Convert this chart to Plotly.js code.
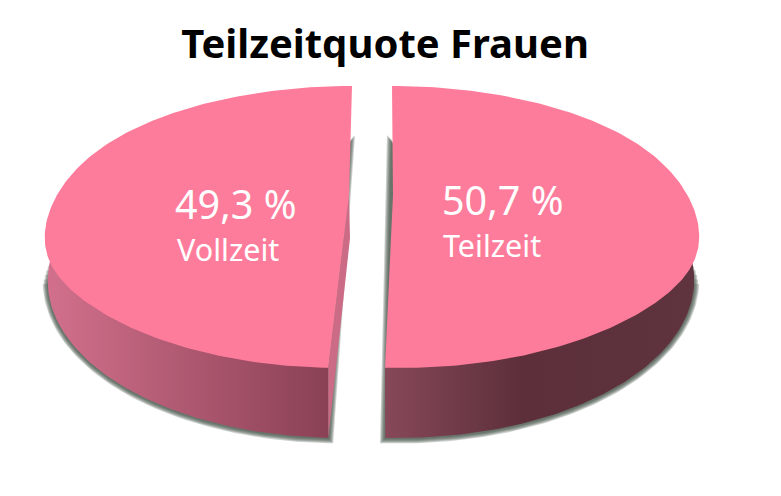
<!DOCTYPE html>
<html><head><meta charset="utf-8">
<script src="https://cdn.plot.ly/plotly-3.0.1.min.js"></script>
<style>html,body{margin:0;padding:0;background:#fff}#c{width:781px;height:496px}</style>
</head><body><div id="c"></div>
<script>
const chartTitle = 'Teilzeitquote Frauen';
const categories = ['Vollzeit', 'Teilzeit'];
const shares = [49.3, 50.7];
const shareLabels = ['49,3 %', '50,7 %'];

const topColor = '#fe7c9b';
const rad = d => d * Math.PI / 180;
const sweep = shares.map(v => v / 100 * 360);

// clockwise angle from 12 o'clock, with a small shear for the perspective
const slices = [
  {start: sweep[1], end: 360, cx: 346.75, s: 5.25, A: 302, apex: [349, 195], outer: 285, shadowEnd: 268,
   wall: [[0, '#d2708c'], [1, '#8a4155']], sideDir: 1},
  {start: 0, end: sweep[1], cx: 395.2, s: -3.2, A: 304, apex: [393, 195], outer: 75, shadowEnd: 92,
   wall: [[0, '#874859'], [0.45, '#5c2f3a'], [1, '#5f343f']], sideDir: -1}
];
const CY = 227, B = 141, LOWA = 299, LOWB = 160, LOWCY = 278, SAG = 8;
const pt = (sl, t, a, b, cy) => [sl.cx + a * Math.sin(rad(t)) + sl.s * Math.cos(rad(t)),
                                  cy - b * Math.cos(rad(t))];
const topPt = (sl, t) => {
  const p = pt(sl, t, sl.A, B, CY);
  return [p[0], p[1] + SAG * Math.pow(Math.abs(Math.sin(rad(t))), 10)];
};
function arc(sl, t0, t1, f) {
  const n = Math.max(2, Math.ceil(Math.abs(t1 - t0)));
  const out = [];
  for (let i = 0; i <= n; i++) out.push(f(t0 + (t1 - t0) * i / n));
  return out;
}
function poly(points, extra) {
  const closed = points.concat([points[0]]);
  return Object.assign({
    x: closed.map(p => p[0]), y: closed.map(p => p[1]),
    type: 'scatter', mode: 'lines', fill: 'toself',
    line: {width: 0}, hoverinfo: 'skip', showlegend: false
  }, extra);
}

const traces = [];
// blurred shadow under each slice, each wider layer fading out earlier
slices.forEach((sl) => {
  const nearBottom = sl.start === 0 ? sl.end : sl.start;
  [5, 4, 3, 2, 1].forEach((d) => {
    const endAngle = sl.shadowEnd + sl.sideDir * (5 - d) * 1.6;
    const low = arc(sl, nearBottom, endAngle, t => pt(sl, t, LOWA + d, LOWB + d, LOWCY + 0.5));
    const first = low[0];
    const top = [sl.apex[0] + sl.sideDir * (d + 1), 140 - d];
    const pts = [top, [first[0] + sl.sideDir * d, first[1]]].concat(low).concat([[sl.apex[0] - sl.sideDir * 60, 240]]);
    traces.push(poly(pts, {fillcolor: 'rgba(65,80,70,0.27)'}));
  });
});
// outer walls
slices.forEach((sl) => {
  const nearBottom = sl.start === 0 ? sl.end : sl.start;
  const low = arc(sl, nearBottom, sl.outer, t => pt(sl, t, LOWA, LOWB, LOWCY));
  const pts = [topPt(sl, nearBottom)].concat(low);
  traces.push(poly(pts, {fillgradient: {type: 'horizontal', colorscale: sl.wall}}));
});
// visible cut wall of the left slice
(function () {
  const sl = slices[0];
  const corner = topPt(sl, sl.start);
  const low = pt(sl, sl.start, LOWA, LOWB, LOWCY);
  traces.push(poly([sl.apex, corner, low, [sl.apex[0] + 1, 238]], {fillcolor: '#cc6b86'}));
})();
// top faces
slices.forEach((sl) => {
  traces.push(poly([sl.apex].concat(arc(sl, sl.start, sl.end, t => topPt(sl, t))), {fillcolor: topColor}));
});

const font = '"Noto Sans", "Open Sans", sans-serif';
const labelPos = [[235.5, 204, 249], [502, 200, 245]];
const annotations = [];
categories.forEach((c, i) => {
  annotations.push({x: labelPos[i][0], y: labelPos[i][1], xref: 'x', yref: 'y', text: shareLabels[i], showarrow: false,
    font: {family: font, size: 39.5, color: '#ffffff'}});
  annotations.push({x: labelPos[i][0] - (i ? 10.5 : 7.5), y: labelPos[i][2], xref: 'x', yref: 'y', text: c, showarrow: false,
    font: {family: font, size: 30.5, color: '#ffffff'}});
});

Plotly.newPlot('c', traces, {
  width: 781, height: 496, autosize: false,
  margin: {l: 0, r: 0, t: 0, b: 0},
  paper_bgcolor: '#ffffff', plot_bgcolor: '#ffffff',
  title: {text: '<b>' + chartTitle + '</b>', x: 0.493, xanchor: 'center', y: 0.912, yanchor: 'middle',
          font: {family: font, size: 40, color: '#000000'}},
  xaxis: {range: [0, 781], visible: false, fixedrange: true},
  yaxis: {range: [496, 0], visible: false, fixedrange: true},
  annotations: annotations,
  showlegend: false
}, {displayModeBar: false, staticPlot: true});
</script></body></html>
